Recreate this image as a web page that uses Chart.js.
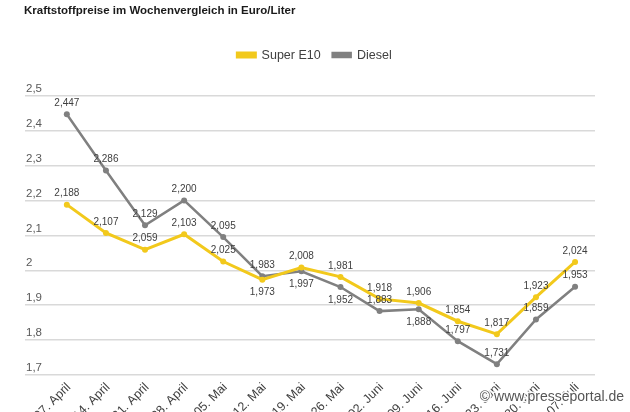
<!DOCTYPE html>
<html lang="de">
<head>
<meta charset="utf-8">
<script src="https://cdn.jsdelivr.net/npm/chart.js@4"></script>
<style>
  html, body { margin: 0; padding: 0; background: #fff; }
  #wrap { width: 630px; height: 412px; }
</style>
</head>
<body>
<div id="wrap"><canvas id="priceChart" width="630" height="412"></canvas></div>
<script>
const weeks = ['07. April', '14. April', '21. April', '28. April', '05. Mai', '12. Mai', '19. Mai',
    '26. Mai', '02. Juni', '09. Juni', '16. Juni', '23. Juni', '30. Juni', '07. Juli'];
const superE10 = [2.188, 2.107, 2.059, 2.103, 2.025, 1.973, 2.008, 1.981, 1.918, 1.906, 1.854, 1.817, 1.923, 2.024];
const diesel = [2.447, 2.286, 2.129, 2.200, 2.095, 1.983, 1.997, 1.952, 1.883, 1.888, 1.797, 1.731, 1.859, 1.953];
const yMin = 1.7;
const yMax = 2.5;
const yStep = 0.1;

// value labels drawn under the point instead of above
const e10Below = [5];
const dieselBelow = [6, 7, 9];

const FONT = "'Liberation Sans', Arial, sans-serif";
const YELLOW = '#F2C91C';
const GREY = '#808080';

const deNum = (v, d) => v.toFixed(d).replace('.', ',');

const valueLabels = {
    id: 'valueLabels',
    afterDatasetsDraw(chart) {
        const ctx = chart.ctx;
        ctx.save();
        ctx.font = '10px ' + FONT;
        ctx.fillStyle = '#404040';
        ctx.textAlign = 'center';
        ctx.textBaseline = 'middle';
        const below = [e10Below, dieselBelow];
        chart.data.datasets.forEach((ds, di) => {
            chart.getDatasetMeta(di).data.forEach((pt, i) => {
                const under = below[di].includes(i);
                ctx.fillText(deNum(ds.data[i].y, 3), pt.x, pt.y + (under ? 13 : -11));
            });
        });
        ctx.restore();
    }
};

const legendShift = {
    id: 'legendShift',
    afterLayout(chart) {
        chart.legend.left += 5;
        chart.legend.right += 5;
    }
};

const watermark = {
    id: 'watermark',
    afterDraw(chart) {
        const ctx = chart.ctx;
        ctx.save();
        ctx.font = "14px 'Liberation Sans', sans-serif";
        ctx.textAlign = 'right';
        ctx.textBaseline = 'middle';
        ctx.lineWidth = 3;
        ctx.strokeStyle = 'rgba(255,255,255,0.9)';
        ctx.strokeText('© www.presseportal.de', 624, 397);
        ctx.fillStyle = '#555';
        ctx.fillText('© www.presseportal.de', 624, 397);
        ctx.restore();
    }
};

new Chart(document.getElementById('priceChart'), {
    type: 'line',
    data: {
        datasets: [{
            label: 'Super E10',
            data: superE10.map((v, i) => ({ x: i, y: v })),
            borderColor: YELLOW,
            backgroundColor: YELLOW,
            borderWidth: 3,
            pointRadius: 3,
            pointBorderWidth: 0,
            pointBackgroundColor: YELLOW,
            tension: 0
        }, {
            label: 'Diesel',
            data: diesel.map((v, i) => ({ x: i, y: v })),
            borderColor: GREY,
            backgroundColor: GREY,
            borderWidth: 2.5,
            pointRadius: 3,
            pointBorderWidth: 0,
            pointBackgroundColor: GREY,
            tension: 0
        }]
    },
    options: {
        responsive: false,
        animation: false,
        devicePixelRatio: 1,
        layout: { padding: { left: 24, right: 35, top: 0, bottom: 0 } },
        plugins: {
            title: {
                display: true,
                text: 'Kraftstoffpreise im Wochenvergleich in Euro/Liter',
                align: 'start',
                color: '#1a1a1a',
                font: { family: FONT, size: 11.5, weight: 'bold' },
                padding: { top: 4, bottom: 19 }
            },
            subtitle: {
                display: true,
                text: '',
                weight: 500,
                padding: { top: 0, bottom: 10 }
            },
            legend: {
                position: 'top',
                labels: {
                    boxWidth: 18,
                    boxHeight: 4,
                    padding: 12,
                    color: '#404040',
                    font: { family: FONT, size: 12.5 }
                }
            },
            tooltip: { enabled: false }
        },
        scales: {
            x: {
                type: 'linear',
                min: -1.07,
                max: 13.51,
                afterBuildTicks: s => { s.ticks = weeks.map((_, i) => ({ value: i })); },
                afterFit: s => { s.height = 37; },
                grid: { display: false, drawTicks: false },
                border: { display: false },
                ticks: {
                    autoSkip: false,
                    minRotation: 45,
                    maxRotation: 45,
                    padding: 5,
                    labelOffset: 2,
                    color: '#404040',
                    font: { family: FONT, size: 12.5 },
                    callback: v => weeks[v] ?? ''
                }
            },
            y: {
                min: yMin,
                max: yMax,
                afterFit: s => { s.width = 1; },
                grid: { color: '#d9d9d9', lineWidth: 1.5, drawTicks: false },
                border: { display: false },
                ticks: {
                    stepSize: yStep,
                    mirror: true,
                    padding: 1,
                    labelOffset: -7,
                    color: '#595959',
                    font: { family: FONT, size: 11.5 },
                    callback: v => String(Math.round(v * 10) / 10).replace('.', ',')
                }
            }
        }
    },
    plugins: [valueLabels, legendShift, watermark]
});
</script>
</body>
</html>
